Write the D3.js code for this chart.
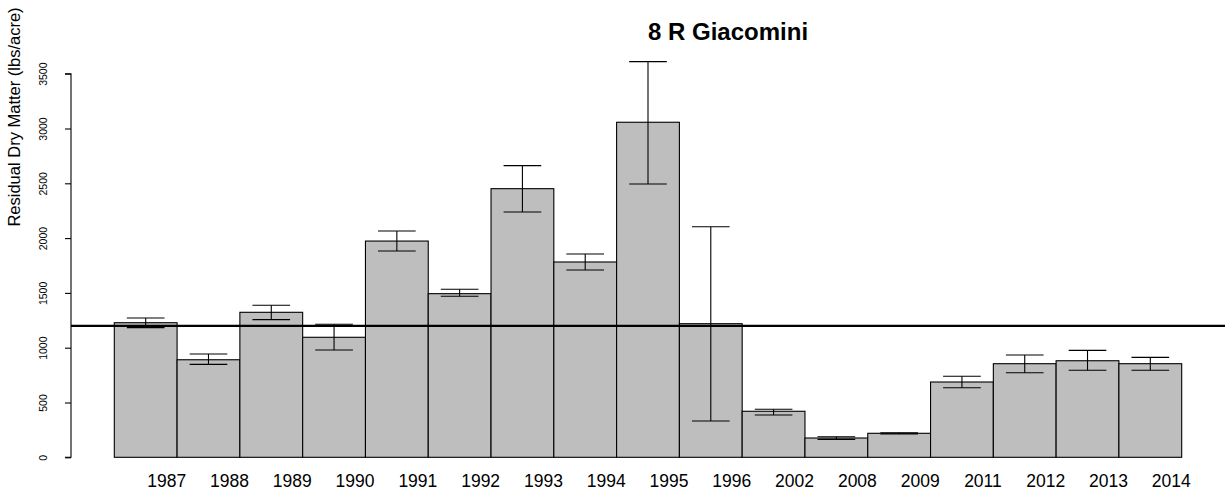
<!DOCTYPE html>
<html>
<head>
<meta charset="utf-8">
<script src="https://cdn.jsdelivr.net/npm/d3@7"></script>
<style>
  html, body { margin: 0; padding: 0; background: #fff; }
  svg { display: block; font-family: "Liberation Sans", Arial, Helvetica, sans-serif; }
</style>
</head>
<body>
<svg id="chart" width="1225" height="494"></svg>
<script>
// Residual dry matter by year, with upper/lower error limits
const years   = ["1987","1988","1989","1990","1991","1992","1993","1994","1995","1996","2002","2008","2009","2011","2012","2013","2014"];
const means   = [1228, 890, 1323, 1095, 1973, 1493, 2451, 1782, 3057, 1219, 420, 176, 219, 687, 854, 881, 854];
const errHigh = [1271, 943, 1387, 1214, 2065, 1533, 2661, 1855, 3610, 2104, 438, 188, 224, 739, 933, 976, 912];
const errLow  = [1183, 848, 1256, 979, 1882, 1469, 2238, 1709, 2494, 331, 386, 164, 213, 635, 772, 794, 794];
const yTicks  = [0, 500, 1000, 1500, 2000, 2500, 3000, 3500];
const targetLevel = 1200;
const chartTitle = "8 R Giacomini";
const yTitle = "Residual Dry Matter (lbs/acre)";

const svg = d3.select("#chart");

const x = d3.scaleBand().domain(years).range([114.3, 1181.7]).padding(0);
const y = d3.scaleLinear().domain([0, 3500]).range([457.3, 73.7]);

const rows = years.map((yr, i) => ({ yr, v: means[i], hi: errHigh[i], lo: errLow[i] }));

// bars
svg.append("g").selectAll("rect").data(rows).join("rect")
  .attr("x", d => x(d.yr))
  .attr("y", d => y(d.v))
  .attr("width", x.bandwidth())
  .attr("height", d => y(0) - y(d.v))
  .attr("fill", "#bebebe")
  .attr("stroke", "#000")
  .attr("stroke-width", 1.1);

// error bars
const capHalf = x.bandwidth() * 0.3;
const eb = svg.append("g").attr("stroke", "#000").attr("stroke-width", 1.1);
rows.forEach(d => {
  const cx = x(d.yr) + x.bandwidth() / 2;
  eb.append("line").attr("x1", cx).attr("x2", cx).attr("y1", y(d.hi)).attr("y2", y(d.lo));
  eb.append("line").attr("x1", cx - capHalf).attr("x2", cx + capHalf).attr("y1", y(d.hi)).attr("y2", y(d.hi));
  eb.append("line").attr("x1", cx - capHalf).attr("x2", cx + capHalf).attr("y1", y(d.lo)).attr("y2", y(d.lo));
});

// reference level
svg.append("line")
  .attr("x1", 71).attr("x2", 1225)
  .attr("y1", y(targetLevel)).attr("y2", y(targetLevel))
  .attr("stroke", "#000").attr("stroke-width", 2.2);

// y axis
const yAxis = d3.axisLeft(y).tickValues(yTicks).tickSize(6).tickFormat(d3.format("d"));
const ag = svg.append("g").attr("transform", "translate(71,0)").call(yAxis);
ag.select(".domain").attr("stroke", "#000").attr("stroke-width", 1.1).attr("d", `M-6,${y(3500)}H0V${y(0)}H-6`);
ag.selectAll(".tick line").attr("stroke", "#000").attr("stroke-width", 1.1);
ag.selectAll(".tick text")
  .attr("x", null).attr("dy", null)
  .attr("transform", "translate(-24,0) rotate(-90)")
  .attr("text-anchor", "middle")
  .attr("font-size", "10.5px")
  .attr("fill", "#000");

// x labels
const xAxis = d3.axisBottom(x).tickSize(0);
const xg = svg.append("g").attr("transform", "translate(21,470)").call(xAxis);
xg.select(".domain").remove();
xg.selectAll(".tick text").attr("y", 0).attr("dy", "16.5px").attr("font-size", "17.5px").attr("fill", "#000");

// titles
svg.append("text")
  .attr("x", 648).attr("y", 40)
  .attr("font-size", "24px").attr("font-weight", "bold")
  .text(chartTitle);

svg.append("text")
  .attr("transform", "translate(20,117) rotate(-90)")
  .attr("text-anchor", "middle")
  .attr("font-size", "16.5px")
  .text(yTitle);
</script>
</body>
</html>
